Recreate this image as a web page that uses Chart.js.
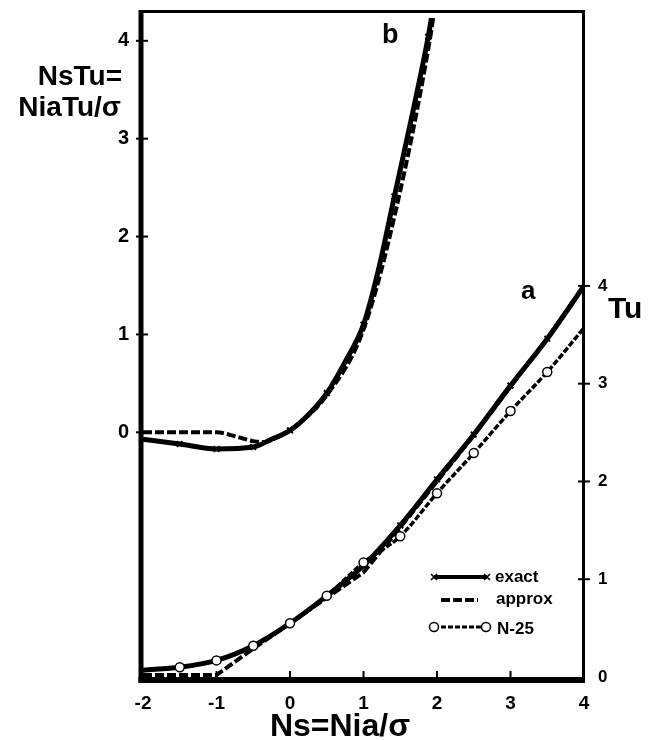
<!DOCTYPE html>
<html>
<head>
<meta charset="utf-8">
<script src="https://cdn.jsdelivr.net/npm/chart.js@4/dist/chart.umd.min.js"></script>
<style>
  html, body { margin: 0; padding: 0; background: #fff; }
  #wrap { width: 656px; height: 740px; }
</style>
</head>
<body>
<div id="wrap"><canvas id="tuChart" width="656" height="740"></canvas></div>
<script>
// Axis ticks
const xTickVals = [-2, -1, 0, 1, 2, 3, 4];
const leftTickVals = [0, 1, 2, 3, 4];   // NsTu
const rightTickVals = [0, 1, 2, 3, 4];  // Tu

// Curve a (Tu vs Ns, right axis)
const nsA = [-2, -1.5, -1, -0.5, 0, 0.5, 1, 1.5, 2, 2.5, 3, 3.5, 4];
const aExact = [0.07, 0.10, 0.17, 0.32, 0.55, 0.83, 1.14, 1.55, 2.02, 2.48, 2.98, 3.46, 4.0];
const aN25 = [0.07, 0.10, 0.17, 0.32, 0.55, 0.83, 1.17, 1.44, 1.88, 2.29, 2.72, 3.12, 3.57];
const nsApproxA = [-2, -1, -0.5, 0, 0.5, 1, 1.5, 2, 2.5, 3, 3.5, 4];
const aApprox = [0.02, 0.02, 0.29, 0.55, 0.81, 1.07, 1.53, 2.0, 2.47, 2.97, 3.46, 4.0];
const nsAMark = [1.5, 2, 2.5, 3, 3.5];
const aMark = [1.55, 2.02, 2.48, 2.98, 3.46];
const nsN25Mark = [-1.5, -1, -0.5, 0, 0.5, 1, 1.5, 2, 2.5, 3, 3.5];
const n25Mark = [0.10, 0.17, 0.32, 0.55, 0.83, 1.17, 1.44, 1.88, 2.29, 2.72, 3.12];

// Curve b (NsTu vs Ns, left axis)
const nsBExact = [-2, -1.5, -1, -0.5, -0.25, 0, 0.25, 0.5, 0.75, 1, 1.2, 1.42, 1.65, 1.88, 1.95];
const bExact = [-0.07, -0.12, -0.17, -0.15, -0.07, 0.02, 0.18, 0.40, 0.72, 1.10, 1.65, 2.41, 3.20, 4.04, 4.35];
const nsBApprox = [-2, -1.5, -1, -0.75, -0.5, -0.35, -0.2, 0, 0.5, 1, 1.45, 1.9, 1.97];
const bApprox = [0.0, 0.0, 0.0, -0.04, -0.09, -0.10, -0.06, 0.02, 0.38, 1.05, 2.30, 4.0, 4.35];
const nsBMark = [-1.5, -1, -0.5, 0, 0.5, 1, 1.42, 1.88];
const bMark = [-0.12, -0.17, -0.15, 0.02, 0.40, 1.10, 2.41, 4.04];

const FONT = "'Liberation Sans', Arial, Helvetica, sans-serif";

function pts(xs, ys) {
    return xs.map((x, i) => ({ x: x, y: ys[i] }));
}

// axes frame, tick marks, labels and legend
const framePlugin = {
    id: 'frame',
    afterDatasetsDraw(chart) {
        const ctx = chart.ctx;
        const x = chart.scales.x, yL = chart.scales.yL, yR = chart.scales.yR;
        ctx.save();
        ctx.strokeStyle = '#000';
        ctx.fillStyle = '#000';
        ctx.lineCap = 'butt';

        // frame
        ctx.lineWidth = 3;
        ctx.beginPath(); ctx.moveTo(139, 11.5); ctx.lineTo(585, 11.5); ctx.stroke();
        ctx.beginPath(); ctx.moveTo(583.5, 10); ctx.lineTo(583.5, 683); ctx.stroke();
        ctx.lineWidth = 5;
        ctx.beginPath(); ctx.moveTo(141, 10); ctx.lineTo(141, 683); ctx.stroke();
        ctx.lineWidth = 6;
        ctx.beginPath(); ctx.moveTo(138.5, 680); ctx.lineTo(585, 680); ctx.stroke();

        // tick marks
        ctx.lineWidth = 2;
        leftTickVals.forEach(v => {
            const py = yL.getPixelForValue(v);
            ctx.beginPath(); ctx.moveTo(136, py); ctx.lineTo(148, py); ctx.stroke();
        });
        rightTickVals.slice(1).forEach(v => {
            const py = yR.getPixelForValue(v);
            ctx.beginPath(); ctx.moveTo(578, py); ctx.lineTo(590, py); ctx.stroke();
        });
        xTickVals.slice(1, -1).forEach(v => {
            const px = x.getPixelForValue(v);
            ctx.beginPath(); ctx.moveTo(px, 671); ctx.lineTo(px, 678); ctx.stroke();
        });

        // labels
        ctx.font = 'bold 28px ' + FONT;
        ctx.textAlign = 'right';
        ctx.textBaseline = 'alphabetic';
        ctx.fillText('NsTu=', 122, 85);
        ctx.fillText('NiaTu/σ', 121, 116);
        ctx.textAlign = 'left';
        ctx.font = 'bold 27px ' + FONT;
        ctx.fillText('b', 382, 43);
        ctx.font = 'bold 26px ' + FONT;
        ctx.fillText('a', 521, 299);
        ctx.font = 'bold 30px ' + FONT;
        ctx.fillText('Tu', 608, 318);
        ctx.font = 'bold 32px ' + FONT;
        ctx.textAlign = 'center';
        ctx.fillText('Ns=Nia/σ', 340, 736);

        // legend
        ctx.lineWidth = 4;
        ctx.beginPath(); ctx.moveTo(434, 577); ctx.lineTo(487, 577); ctx.stroke();
        ctx.lineWidth = 1.6;
        [434, 487].forEach(px => {
            ctx.beginPath();
            ctx.moveTo(px - 3, 574); ctx.lineTo(px + 3, 580);
            ctx.moveTo(px + 3, 574); ctx.lineTo(px - 3, 580);
            ctx.stroke();
        });
        ctx.lineWidth = 4;
        ctx.setLineDash([9, 3]);
        ctx.beginPath(); ctx.moveTo(441, 600); ctx.lineTo(478, 600); ctx.stroke();
        ctx.lineWidth = 3;
        ctx.setLineDash([5, 2]);
        ctx.beginPath(); ctx.moveTo(434, 627); ctx.lineTo(486, 627); ctx.stroke();
        ctx.setLineDash([]);
        ctx.lineWidth = 1.5;
        ctx.fillStyle = '#fff';
        [434, 486].forEach(px => {
            ctx.beginPath(); ctx.arc(px, 627, 4.5, 0, Math.PI * 2); ctx.fill(); ctx.stroke();
        });
        ctx.fillStyle = '#000';
        ctx.font = 'bold 17px ' + FONT;
        ctx.textAlign = 'left';
        ctx.fillText('exact', 495, 582);
        ctx.fillText('approx', 496, 604);
        ctx.fillText('N-25', 497, 634);
        ctx.restore();
    }
};

function initChart() {
    const ctx = document.getElementById('tuChart').getContext('2d');
    const black = '#000';
    new Chart(ctx, {
        type: 'scatter',
        data: {
            datasets: [{
                label: 'N-25 points',
                yAxisID: 'yR',
                data: pts(nsN25Mark, n25Mark),
                pointStyle: 'circle',
                pointRadius: 4.5,
                pointBorderWidth: 1.5,
                pointBorderColor: black,
                pointBackgroundColor: '#fff',
                showLine: false
            }, {
                label: 'exact a points',
                yAxisID: 'yR',
                data: pts(nsAMark, aMark),
                pointStyle: 'crossRot',
                pointRadius: 4,
                pointBorderWidth: 2,
                pointBorderColor: black,
                showLine: false
            }, {
                label: 'exact b points',
                yAxisID: 'yL',
                data: pts(nsBMark, bMark),
                pointStyle: 'crossRot',
                pointRadius: 4,
                pointBorderWidth: 2,
                pointBorderColor: black,
                showLine: false
            }, {
                label: 'exact a',
                yAxisID: 'yR',
                data: pts(nsA, aExact),
                showLine: true,
                borderColor: black,
                borderWidth: 5,
                pointRadius: 0,
                cubicInterpolationMode: 'monotone'
            }, {
                label: 'exact b',
                yAxisID: 'yL',
                data: pts(nsBExact, bExact),
                showLine: true,
                borderColor: black,
                borderWidth: 5,
                pointRadius: 0,
                cubicInterpolationMode: 'monotone'
            }, {
                label: 'approx a',
                yAxisID: 'yR',
                data: pts(nsApproxA, aApprox),
                showLine: true,
                borderColor: black,
                borderWidth: 4,
                borderDash: [9, 3],
                pointRadius: 0
            }, {
                label: 'approx b',
                yAxisID: 'yL',
                data: pts(nsBApprox, bApprox),
                showLine: true,
                borderColor: black,
                borderWidth: 4,
                borderDash: [9, 3],
                pointRadius: 0,
                cubicInterpolationMode: 'monotone'
            }, {
                label: 'N-25',
                yAxisID: 'yR',
                data: pts(nsA, aN25),
                showLine: true,
                borderColor: black,
                borderWidth: 3.5,
                borderDash: [6, 2],
                pointRadius: 0,
                cubicInterpolationMode: 'monotone'
            }]
        },
        options: {
            responsive: false,
            animation: false,
            devicePixelRatio: 1,
            layout: { padding: { top: 12, left: 0, right: 0, bottom: 0 } },
            plugins: {
                legend: { display: false },
                tooltip: { enabled: false }
            },
            scales: {
                x: {
                    type: 'linear',
                    position: 'bottom',
                    min: -2,
                    max: 4,
                    grid: { display: false },
                    border: { display: false },
                    afterBuildTicks: s => { s.ticks = xTickVals.map(v => ({ value: v })); },
                    afterFit: s => { s.height = 63; },
                    ticks: {
                        color: black,
                        font: { family: FONT, size: 19, weight: 'bold' },
                        padding: 7,
                        autoSkip: false,
                        maxRotation: 0
                    }
                },
                yL: {
                    type: 'linear',
                    position: 'left',
                    min: -2.5,
                    max: 4.233,
                    grid: { display: false },
                    border: { display: false },
                    afterBuildTicks: s => { s.ticks = leftTickVals.map(v => ({ value: v })); },
                    afterFit: s => { s.width = 143; },
                    ticks: {
                        color: black,
                        font: { family: FONT, size: 20, weight: 'bold' },
                        padding: 6
                    }
                },
                yR: {
                    type: 'linear',
                    position: 'right',
                    min: 0,
                    max: 6.74,
                    grid: { display: false },
                    border: { display: false },
                    afterBuildTicks: s => { s.ticks = rightTickVals.map(v => ({ value: v })); },
                    afterFit: s => { s.width = 72; },
                    ticks: {
                        color: black,
                        font: { family: FONT, size: 17, weight: 'bold' },
                        padding: 6
                    }
                }
            }
        },
        plugins: [framePlugin]
    });
}

window.addEventListener('DOMContentLoaded', initChart);
</script>
</body>
</html>
